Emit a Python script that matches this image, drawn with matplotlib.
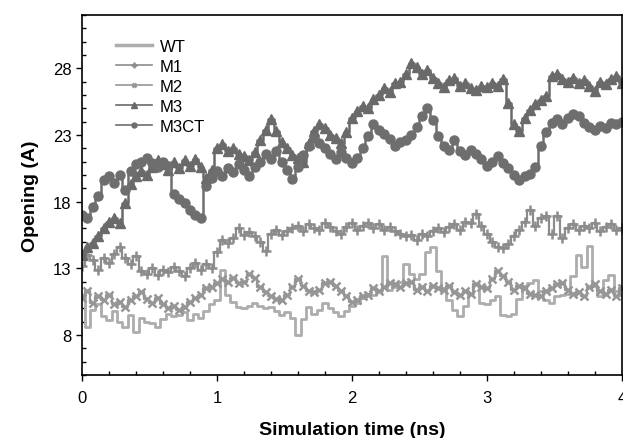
import matplotlib
matplotlib.use("Agg")
import matplotlib.pyplot as plt
import numpy as np
from matplotlib.ticker import MultipleLocator

plt.rcParams["font.family"] = ["Liberation Sans", "DejaVu Sans"]

# simulation time grid (ns), one reading every 0.04 ns
time_ns = np.round(np.arange(0, 101) * 0.04, 2)

wt = [11.0, 8.6, 9.9, 10.3, 9.4, 9.1, 9.8, 9.0, 8.6, 9.5,
      8.2, 9.3, 9.0, 8.9, 8.6, 9.2, 9.6, 9.4, 9.5, 9.7,
      9.1, 9.6, 9.3, 9.8, 10.3, 10.6, 12.9, 11.0, 10.5, 10.1,
      10.0, 10.2, 10.4, 10.2, 10.0, 10.1, 9.8, 9.5, 9.7, 9.3,
      8.0, 9.2, 10.1, 9.6, 9.9, 10.4, 10.0, 9.7, 9.4, 9.8,
      10.2, 10.4, 10.8, 11.1, 11.0, 11.3, 13.9, 11.4, 11.6, 12.0,
      13.3, 12.6, 12.2, 12.6, 14.2, 14.6, 12.8, 11.5, 10.6, 9.9,
      9.4, 10.2, 11.1, 11.8, 10.4, 10.3, 10.6, 10.9, 9.5, 9.4,
      9.6, 10.7, 11.7, 11.9, 12.1, 11.3, 10.6, 10.4, 10.9, 11.0,
      11.1, 12.4, 14.0, 13.1, 14.7, 11.7, 10.9, 12.1, 12.5, 11.3,
      11.0]

m1 = [13.2, 14.0, 13.6, 12.9, 13.8, 13.4, 14.1, 14.6, 13.8, 13.3,
      13.9, 12.8, 12.6, 13.0, 12.5, 12.9, 12.7, 13.1, 12.8, 12.4,
      13.0, 13.4, 12.9, 13.3, 13.0, 14.2, 15.1, 14.9, 15.3, 16.0,
      15.5, 15.7, 15.4, 15.0, 14.3, 15.6, 15.9, 15.5, 15.8, 16.0,
      16.2, 15.8, 16.3, 16.0, 15.9, 16.4, 16.1, 15.8, 15.6, 16.1,
      16.4, 15.9, 16.2, 16.4, 16.0, 16.3, 15.9, 16.1, 15.8, 15.6,
      15.4, 15.5, 15.1, 15.6, 15.4, 15.8, 16.0, 15.7, 16.1, 16.3,
      15.9, 16.5, 16.4, 17.1, 16.2, 15.6, 15.0, 14.6, 14.5, 14.8,
      15.4, 15.9, 16.5, 17.4, 16.2, 16.8, 16.9, 15.6, 16.9, 15.3,
      16.0, 16.3, 15.9, 16.2, 16.0, 16.4, 15.8, 16.1, 16.3, 15.9,
      16.0]

m2 = [10.8, 11.3, 10.4, 10.9, 10.6, 11.0, 10.3, 10.5, 10.1, 10.6,
      10.9, 11.2, 10.7, 10.4, 10.8, 10.3, 10.0, 10.2, 9.9, 10.1,
      10.5, 10.8, 11.0, 11.5, 11.6, 11.9, 12.2, 12.0, 12.3, 11.9,
      12.0, 12.6, 12.3, 11.6, 11.2, 10.9, 10.7, 10.6, 11.0, 11.6,
      12.2, 11.7, 11.3, 11.2, 11.4, 11.9, 12.0, 11.7, 11.3, 10.9,
      10.5, 10.6, 10.9, 11.0, 11.5, 11.3, 11.6, 11.9, 11.8, 11.6,
      11.9, 12.0, 11.4, 11.6, 11.3, 11.7, 11.5, 11.4, 11.7, 11.2,
      11.0, 11.3, 11.1, 11.8, 11.6, 11.5, 12.2, 12.8, 12.4, 12.0,
      11.4, 11.7, 11.5, 11.1, 11.0, 10.9, 11.3, 11.5, 11.8, 11.9,
      11.4, 11.1, 11.2, 10.9, 11.6, 11.8, 11.3, 11.1, 11.4, 10.9,
      11.5]

m3 = [14.0, 14.6, 14.9, 15.4, 16.0, 16.5, 16.8, 16.4, 17.9, 19.3,
      19.9, 20.3, 20.0, 20.6, 21.1, 20.8, 20.4, 21.0, 20.5, 21.1,
      20.7, 21.2, 20.6, 19.8, 20.4, 22.0, 22.3, 21.8, 22.0, 21.6,
      21.4, 21.1, 21.7, 22.6, 23.4, 24.2, 23.3, 22.5, 22.0, 21.5,
      21.3, 21.0, 22.4, 23.3, 23.8, 23.5, 23.0, 22.8, 22.4, 23.2,
      24.3, 24.8, 25.2, 25.0, 25.7, 26.0, 26.5, 26.2, 26.9, 27.0,
      27.6, 28.4, 28.1, 27.6, 27.9, 27.3, 26.9, 26.6, 27.1, 27.3,
      26.7, 26.9, 26.5, 26.4, 26.7, 26.6, 26.9, 26.7, 27.2, 25.4,
      23.8, 23.3, 24.3, 24.9, 25.3, 25.6, 25.9, 27.4, 27.6, 27.2,
      27.0, 27.3, 26.9, 27.1, 26.7, 26.3, 27.0, 26.8, 27.2, 27.4,
      26.9]

m3ct = [17.0, 16.8, 17.6, 18.4, 19.6, 19.9, 19.4, 20.0, 18.9, 20.3,
        20.8, 21.0, 21.3, 20.9, 20.6, 21.0, 20.7, 18.6, 18.2, 17.9,
        17.4, 17.0, 16.8, 19.2, 19.8, 20.3, 19.9, 20.5, 20.2, 20.8,
        20.4, 19.9, 20.6, 21.0, 21.6, 21.2, 21.8, 21.0, 20.4, 19.7,
        20.6, 21.5, 22.2, 22.8, 22.4, 22.0, 21.6, 21.2, 21.7, 21.3,
        20.9, 21.3, 22.0, 22.9, 23.8, 23.4, 23.1, 22.7, 22.2, 22.5,
        22.6, 23.0, 23.6, 24.4, 25.0, 24.1, 22.9, 22.2, 21.9, 22.6,
        21.8, 21.5, 21.9, 21.6, 21.2, 20.7, 21.0, 21.4, 20.9, 20.5,
        20.0, 19.6, 19.9, 20.1, 20.6, 22.2, 23.2, 23.9, 24.2, 23.8,
        24.3, 24.6, 24.4, 23.9, 23.6, 23.4, 23.7, 23.5, 23.9, 23.8,
        24.0]

fig = plt.figure(figsize=(6.23, 4.39), dpi=100)
ax = fig.add_axes([0.1316, 0.1435, 0.8664, 0.8201])

ax.plot(time_ns, wt, color="#adadad", lw=2.0, drawstyle="steps-mid", label="WT")
ax.plot(time_ns, m1, color="#8c8c8c", lw=1.6, marker="+", ms=7, mew=1.8,
        drawstyle="steps-mid", label="M1")
ax.plot(time_ns, m2, color="#969696", lw=1.6, marker="x", ms=6, mew=1.8,
        drawstyle="steps-mid", label="M2")
ax.plot(time_ns, m3, color="#6a6a6a", lw=1.8, marker="^", ms=7,
        drawstyle="steps-mid", label="M3")
ax.plot(time_ns, m3ct, color="#6e6e6e", lw=1.8, marker="o", ms=6.5,
        drawstyle="steps-mid", label="M3CT")

ax.set_xlim(0, 4)
ax.set_ylim(5, 32)
ax.set_xticks([0, 1, 2, 3, 4])
ax.set_yticks([8, 13, 18, 23, 28])
ax.xaxis.set_minor_locator(MultipleLocator(0.2))
ax.yaxis.set_minor_locator(MultipleLocator(1))
ax.tick_params(which="major", direction="out", length=4.5, width=1, labelsize=12)
ax.tick_params(axis="x", which="major", pad=6)
ax.tick_params(axis="y", which="major", pad=3)
ax.tick_params(which="minor", direction="in", length=3, width=1)
for s in ax.spines.values():
    s.set_linewidth(1.2)

ax.set_xlabel("Simulation time (ns)", fontsize=14, fontweight="bold", labelpad=12)
ax.set_ylabel("Opening (A)", fontsize=14, fontweight="bold", labelpad=10)

leg = ax.legend(loc="upper left", frameon=False, fontsize=12, handlelength=2.15,
                handletextpad=0.5, labelspacing=0.3, bbox_to_anchor=(0.035, 0.975),
                markerscale=0.55)
for h in leg.legend_handles:
    h.set_linewidth(1.2)
leg.legend_handles[0].set_linewidth(2.5)

fig.savefig("out.png", dpi=100)
plt.close(fig)
